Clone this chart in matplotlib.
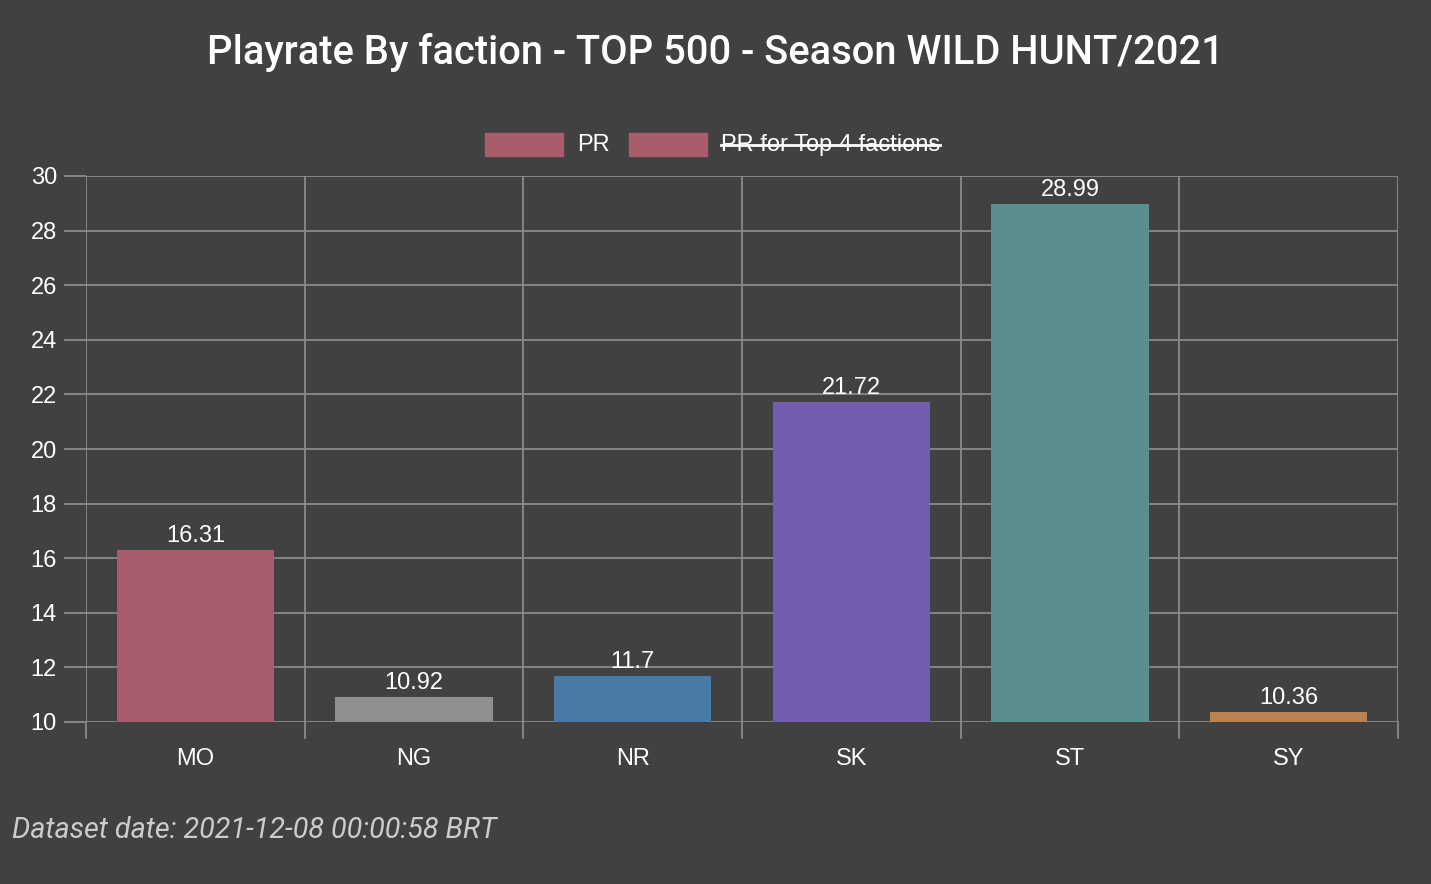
import matplotlib.pyplot as plt
from matplotlib.patches import Rectangle
from matplotlib.lines import Line2D

# data
factions = ["MO", "NG", "NR", "SK", "ST", "SY"]
playrate = [16.31, 10.92, 11.7, 21.72, 28.99, 10.36]
value_labels = ["16.31", "10.92", "11.7", "21.72", "28.99", "10.36"]
bar_colors = ["#a85c6c", "#8f8f8f", "#4a7ba6", "#735bb0", "#5b8e8e", "#b8834e"]

bg = "#414141"
grid_col = "#8a8a8a"
fs = 17

fig = plt.figure(figsize=(14.31, 8.84), dpi=100, facecolor=bg)
W, H = 1431, 884
# plot area in pixels: x 86..1398, y 176..722
ax = fig.add_axes([86 / W, 1 - 722 / H, (1398 - 86) / W, (722 - 176) / H])
ax.set_facecolor(bg)

x = range(len(factions))
ax.bar(x, [v - 10 for v in playrate], bottom=10, width=0.72, color=bar_colors, zorder=3)
for i, v in enumerate(playrate):
    ax.annotate(value_labels[i], (i, v), xytext=(0, 2), textcoords="offset points",
                ha="center", va="bottom", color="white", fontsize=fs,
                family="Liberation Sans", zorder=4)

ax.set_xlim(-0.5, len(factions) - 0.5)
ax.set_ylim(10, 30)
ax.set_yticks(range(10, 31, 2))
ax.set_xticks(x)
ax.set_xticklabels(factions)

# vertical grid lines on category borders
for b in [i - 0.5 for i in range(len(factions) + 1)]:
    ax.axvline(b, color=grid_col, lw=1.3, zorder=1)
    ax.plot([b, b], [0, -0.03], transform=ax.get_xaxis_transform(), color=grid_col,
            lw=1.3, clip_on=False)
ax.yaxis.grid(True, color=grid_col, lw=1.3, zorder=1)
ax.set_axisbelow(True)

for s in ax.spines.values():
    s.set_visible(False)
ax.tick_params(axis="x", length=0, pad=19, labelsize=fs, labelcolor="white")
ax.tick_params(axis="y", length=16, color=grid_col, width=1.3, pad=5, labelsize=fs,
               labelcolor="white")
for lab in ax.get_xticklabels() + ax.get_yticklabels():
    lab.set_family("Liberation Sans")

fig.text(0.5, 1 - 52 / H, "Playrate By faction - TOP 500 - Season WILD HUNT/2021",
         ha="center", va="center", color="white", fontsize=28.7, family="Roboto",
         fontweight="medium")

# legend drawn by hand (second label is struck through)
for bx, label, strike in [(485, "PR", False), (629, "PR for Top 4 factions", True)]:
    fig.patches.append(Rectangle((bx / W, 1 - 156 / H), 78 / W, 23 / H,
                                 transform=fig.transFigure, color="#a85c6c"))
    t = fig.text((bx + 92) / W, 1 - 145 / H, label, ha="left", va="center",
                 color="white", fontsize=fs, family="Liberation Sans")
    if strike:
        fig.canvas.draw()
        ext = t.get_window_extent()
        fig.lines.append(Line2D([ext.x0 / W, ext.x1 / W], [1 - 145 / H, 1 - 145 / H],
                                transform=fig.transFigure, color="white", lw=2))

fig.text(12 / W, 1 - 830 / H, "Dataset date: 2021-12-08 00:00:58 BRT", ha="left",
         va="center", color="#cccccc", fontsize=20.7, family="Roboto", style="italic")

fig.savefig("out.png", dpi=100, facecolor=bg)
